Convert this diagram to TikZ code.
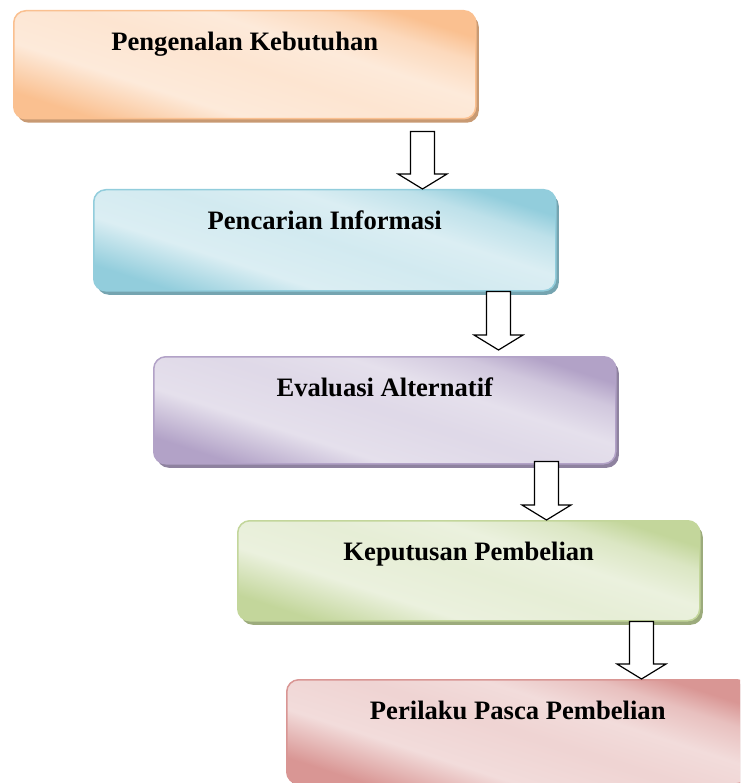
\documentclass[tikz,border=0pt]{standalone}
\usepackage{fontspec}
\setmainfont{Liberation Serif}
\usetikzlibrary{calc,shadows}
\definecolor{orangeedge}{HTML}{FAC090}
\definecolor{orangemid}{HTML}{FDEADA}
\definecolor{blueedge}{HTML}{92CDDC}
\definecolor{bluemid}{HTML}{DBEEF3}
\definecolor{purpleedge}{HTML}{B2A2C7}
\definecolor{purplemid}{HTML}{E5E0EC}
\definecolor{greenedge}{HTML}{C3D69B}
\definecolor{greenmid}{HTML}{EBF1DE}
\definecolor{rededge}{HTML}{D99694}
\definecolor{redmid}{HTML}{F2DCDB}
\colorlet{boxedge}{orangeedge}
\colorlet{boxmid}{orangemid}
\pgfdeclarehorizontalshading[boxedge,boxmid]{gloss}{100bp}{color(0bp)=(boxedge); color(25bp)=(boxedge); color(37bp)=(boxmid); color(50bp)=(boxmid!88!boxedge); color(60bp)=(boxmid); color(69bp)=(boxmid!60!boxedge); color(75bp)=(boxedge); color(100bp)=(boxedge)}
\tikzset{
  stagebox/.style 2 args={/utils/exec={\colorlet{boxedge}{#1}\colorlet{boxmid}{#2}},
    draw=#1, line width=1.5pt, rounded corners=12pt, anchor=north west,
    minimum width=462pt, inner sep=0pt, text height=40pt, shade, shading=gloss, shading angle=72,
    drop shadow={shadow xshift=3pt, shadow yshift=-4pt, fill=#1!80!black, opacity=1}},
  flowarrow/.style={draw=black, fill=white, line width=1.2pt, line join=miter}
}
\begin{document}
\begin{tikzpicture}[x=1pt,y=-1pt,font=\fontsize{26.6}{30}\selectfont\bfseries]
  \clip (0,0) rectangle (740,783);
  % from, to, distance from right side, gap below, gap above tip
  \newcommand{\stagearrow}[5]{\draw[flowarrow] let \p1=($(#1.south east)+(-#3,#4)$), \p2=($(#2.north)+(0,-#5)$) in
    (\x1-12pt,\y1) -- (\x1+12pt,\y1) -- (\x1+12pt,\y2+15pt) -- (\x1+24.5pt,\y2+15pt)
    -- (\x1,\y2) -- (\x1-24.5pt,\y2+15pt) -- (\x1-12pt,\y2+15pt) -- cycle;}
  % the five stages, each one step to the right
  \node[stagebox={orangeedge}{orangemid}, text depth=68pt] (kebutuhan) at (13,10) {Pengenalan Kebutuhan};
  \node[stagebox={blueedge}{bluemid}, text depth=61pt] (informasi) at (93,189) {Pencarian Informasi};
  \node[stagebox={purpleedge}{purplemid}, text depth=67pt] (evaluasi) at (153,356) {Evaluasi Alternatif};
  \node[stagebox={greenedge}{greenmid}, text depth=60pt] (keputusan) at (237,520) {Keputusan Pembelian};
  \node[stagebox={rededge}{redmid}, text depth=64pt] (pasca) at (286,679) {Perilaku Pasca Pembelian};
  % block arrows between the stages
  \stagearrow{kebutuhan}{informasi}{54}{12}{0}
  \stagearrow{informasi}{evaluasi}{58}{0}{6}
  \stagearrow{evaluasi}{keputusan}{70}{-3}{0}
  \stagearrow{keputusan}{pasca}{59}{0}{0}
\end{tikzpicture}
\end{document}
